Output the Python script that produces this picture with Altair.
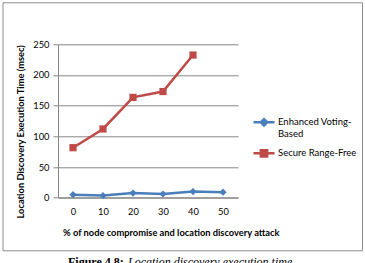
import altair as alt
import pandas as pd

# ---- data ----
series_names = ["Enhanced Voting-Based", "Secure Range-Free"]
x_labels = [0, 10, 20, 30, 40, 50]
enhanced_voting = [5, 3.5, 7.5, 6, 10, 9]
secure_range_free = [81.5, 112, 163.5, 173, 232.5]
series_colors = ["#4A7EBB", "#BE4B48"]
series_markers = ["diamond", "square"]

rows = []
for xv, yv in zip(x_labels, enhanced_voting):
    rows.append({"x": xv, "y": yv, "series": series_names[0], "marker": series_markers[0]})
for xv, yv in zip(x_labels, secure_range_free):
    rows.append({"x": xv, "y": yv, "series": series_names[1], "marker": series_markers[1]})
df = pd.DataFrame(rows)

FONT = "Lato"
W, H = 180, 153.4

x_enc = alt.X(
    "x:O",
    title="% of node compromise and location discovery attack",
    sort=x_labels,
    axis=alt.Axis(
        labelAngle=0, ticks=False, tickSize=0, labelPadding=10,
        domainColor="#868686", labelColor="#000000", labelFontSize=9.3, labelFont=FONT,
        titleFont=FONT, titleFontSize=9.3, titleFontWeight="bold", titleColor="#000000",
        titleX=112.8, titleY=35, titleBaseline="middle", titleAlign="center",
    ),
)
y_enc = alt.Y(
    "y:Q",
    title="Location Discovery Execution Time (msec)",
    scale=alt.Scale(domain=[0, 250], nice=False),
    axis=alt.Axis(
        values=[0, 50, 100, 150, 200, 250], grid=True, gridColor="#868686", gridWidth=1,
        domainColor="#868686", tickColor="#868686", tickSize=5, labelPadding=4,
        labelColor="#000000", labelFontSize=9.3, labelFont=FONT,
        titleFont=FONT, titleFontSize=9.3, titleFontWeight="bold", titleColor="#000000",
        titleX=-37.3, titleY=87, titleAngle=270, titleBaseline="middle", titleAlign="center",
    ),
)
color_scale = alt.Scale(domain=series_names, range=series_colors)

leg = alt.Legend(
    title=None, orient="none", legendX=194, legendY=66, padding=0,
    symbolSize=441, symbolStrokeWidth=2.5, symbolOpacity=1, labelFont=FONT, labelFontSize=9.5,
    labelColor="#000000", labelOffset=2, rowPadding=3, labelLimit=200,
    labelExpr="datum.label == 'Enhanced Voting-Based' ? ['Enhanced Voting-', 'Based'] : datum.label",
)

lines = alt.Chart(df).mark_line(strokeWidth=2.5).encode(
    x=x_enc, y=y_enc,
    color=alt.Color("series:N", scale=color_scale, legend=leg),
    detail="series:N",
)
points = alt.Chart(df).mark_point(filled=True, size=52, opacity=1).encode(
    x=x_enc, y=y_enc,
    color=alt.Color("series:N", scale=color_scale, legend=None),
    shape=alt.Shape("marker:N", scale=None),
)

legend_paths = [
    "M-1,0H1M0,-0.3L0.3,0L0,0.3L-0.3,0Z",
    "M-1,0H1M-0.3,-0.3H0.3V0.3H-0.3Z",
]
legend_layer = alt.Chart(df).mark_point(filled=True, opacity=0, strokeWidth=2.5, size=1).encode(
    x=x_enc, y=y_enc,
    fill=alt.Fill("series:N", scale=alt.Scale(domain=series_names, range=series_colors), legend=leg),
    stroke=alt.Stroke("series:N", scale=alt.Scale(domain=series_names, range=series_colors), legend=leg),
    shape=alt.Shape("series:N", scale=alt.Scale(domain=series_names, range=legend_paths), legend=leg),
)

one_row = "datum.x == 0 && datum.series == 'Secure Range-Free'"
frame = alt.Chart(df).mark_rect(fill=None, stroke="#8c8c8c", strokeWidth=1).encode(
    x=alt.value(-55), x2=alt.value(304.5), y=alt.value(-41.5), y2=alt.value(206.5)
).transform_filter(one_row)

cap1 = alt.Chart(df).mark_text(
    text="Figure 4.8:", font="Liberation Serif", fontSize=12, fontWeight="bold",
    align="left", baseline="alphabetic", color="#000000",
).encode(x=alt.value(10), y=alt.value(222)).transform_filter(one_row)
cap2 = alt.Chart(df).mark_text(
    text="Location discovery execution time", font="Liberation Serif", fontSize=12,
    fontStyle="italic", align="left", baseline="alphabetic", color="#000000",
).encode(x=alt.value(70), y=alt.value(222)).transform_filter(one_row)

chart = alt.layer(frame, lines, points, legend_layer, cap1, cap2).properties(
    width=W, height=H,
    autosize=alt.AutoSizeParams(type="none"),
    padding={"left": 58, "top": 44.3, "right": 127, "bottom": 65.3},
    background="white",
).configure_view(stroke=None)

chart.save("out.html", embed_options={"renderer": "svg", "actions": False})
